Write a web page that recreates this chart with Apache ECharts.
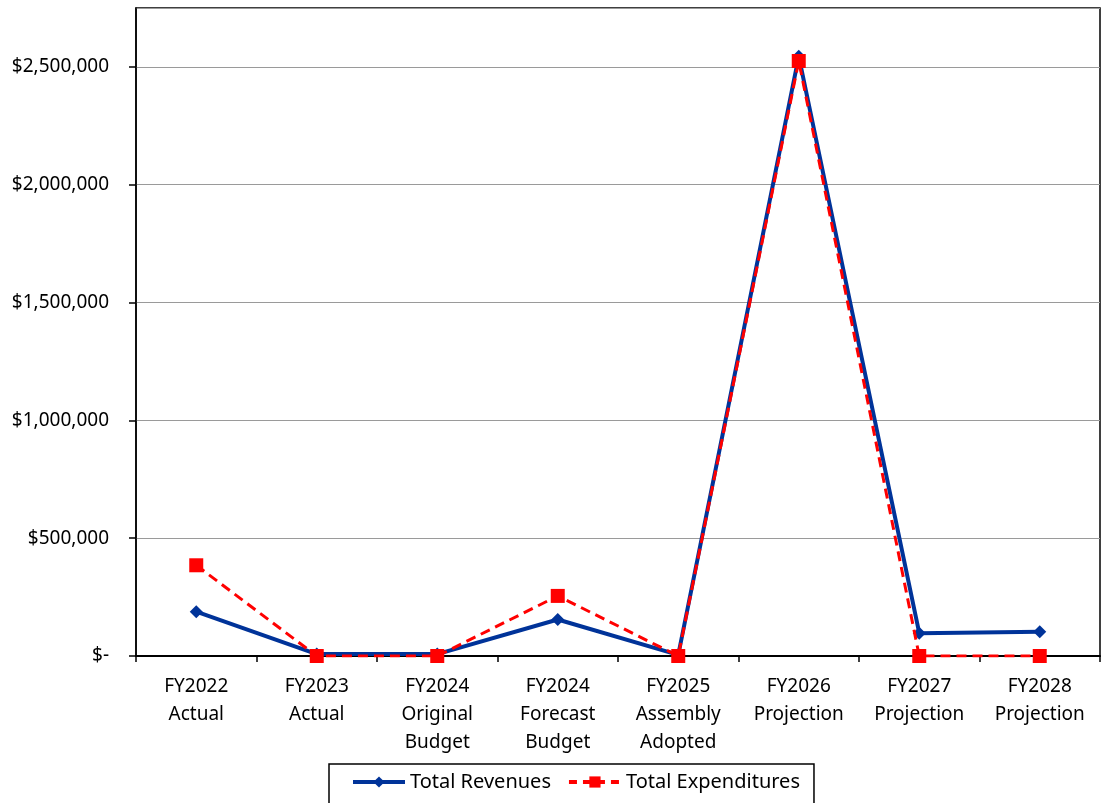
<!DOCTYPE html>
<html>
<head>
<meta charset="utf-8">
<script src="https://cdn.jsdelivr.net/npm/echarts@6/dist/echarts.min.js"></script>
<style>
  html, body { margin: 0; padding: 0; background: #fff; }
  #main { width: 1102px; height: 803px; }
</style>
</head>
<body>
<div id="main"></div>
<script>
// categories on the x axis
var categories = [
  'FY2022\nActual',
  'FY2023\nActual',
  'FY2024\nOriginal\nBudget',
  'FY2024\nForecast\nBudget',
  'FY2025\nAssembly\nAdopted',
  'FY2026\nProjection',
  'FY2027\nProjection',
  'FY2028\nProjection'
];
// values
var totalRevenues = [188000, 8000, 8000, 155000, 5000, 2545000, 97000, 103000];
var totalExpenditures = [385000, 0, 0, 255000, 0, 2525000, 0, 0];

var fontName = '"Noto Sans", "Open Sans", sans-serif';

function money(v) {
  if (v === 0) return '$-';
  return '$' + v.toLocaleString('en-US');
}

var myChart = echarts.init(document.getElementById('main'));
var option = {
  animation: false,
  textStyle: { fontFamily: fontName },
  grid: {
    left: 136, right: 2, top: 8, bottom: 147,
    show: true, borderColor: '#000', borderWidth: 1.5,
    containLabel: false
  },
  legend: {
    left: 329, top: 764,
    padding: [8, 14, 20, 22],
    borderColor: '#000', borderWidth: 1.5,
    backgroundColor: '#fff',
    itemWidth: 52, itemHeight: 14,
    itemGap: 16,
    textStyle: { fontSize: 20, color: '#000', fontFamily: fontName },
    data: [
      { name: 'Total Revenues', lineStyle: { width: 4 } },
      { name: 'Total Expenditures', lineStyle: { width: 4, type: [8, 6] } }
    ]
  },
  xAxis: {
    type: 'category',
    data: categories,
    boundaryGap: true,
    axisLine: { lineStyle: { color: '#000', width: 2 } },
    axisTick: { show: true, length: 6, lineStyle: { color: '#000', width: 1.5 } },
    axisLabel: { fontSize: 19, color: '#000', lineHeight: 28, margin: 17, interval: 0 }
  },
  yAxis: {
    type: 'value',
    min: 0, max: 2750000, interval: 500000,
    axisLine: { show: true, lineStyle: { color: '#000', width: 1.5 } },
    axisTick: { show: true, length: 7, lineStyle: { color: '#000', width: 1.5 } },
    axisLabel: { fontSize: 19, color: '#000', margin: 27, showMaxLabel: false, formatter: money },
    splitLine: { lineStyle: { color: '#9a9a9a', width: 1 } }
  },
  series: [
    {
      name: 'Total Revenues',
      type: 'line',
      data: totalRevenues,
      symbol: 'diamond', symbolSize: 13,
      lineStyle: { color: '#003399', width: 4 },
      itemStyle: { color: '#003399' },
      z: 2
    },
    {
      name: 'Total Expenditures',
      type: 'line',
      data: totalExpenditures,
      symbol: 'rect', symbolSize: 14,
      lineStyle: { color: '#ff0000', width: 3, type: [10, 6] },
      itemStyle: { color: '#ff0000' },
      z: 3
    }
  ]
};
myChart.setOption(option);
</script>
</body>
</html>
